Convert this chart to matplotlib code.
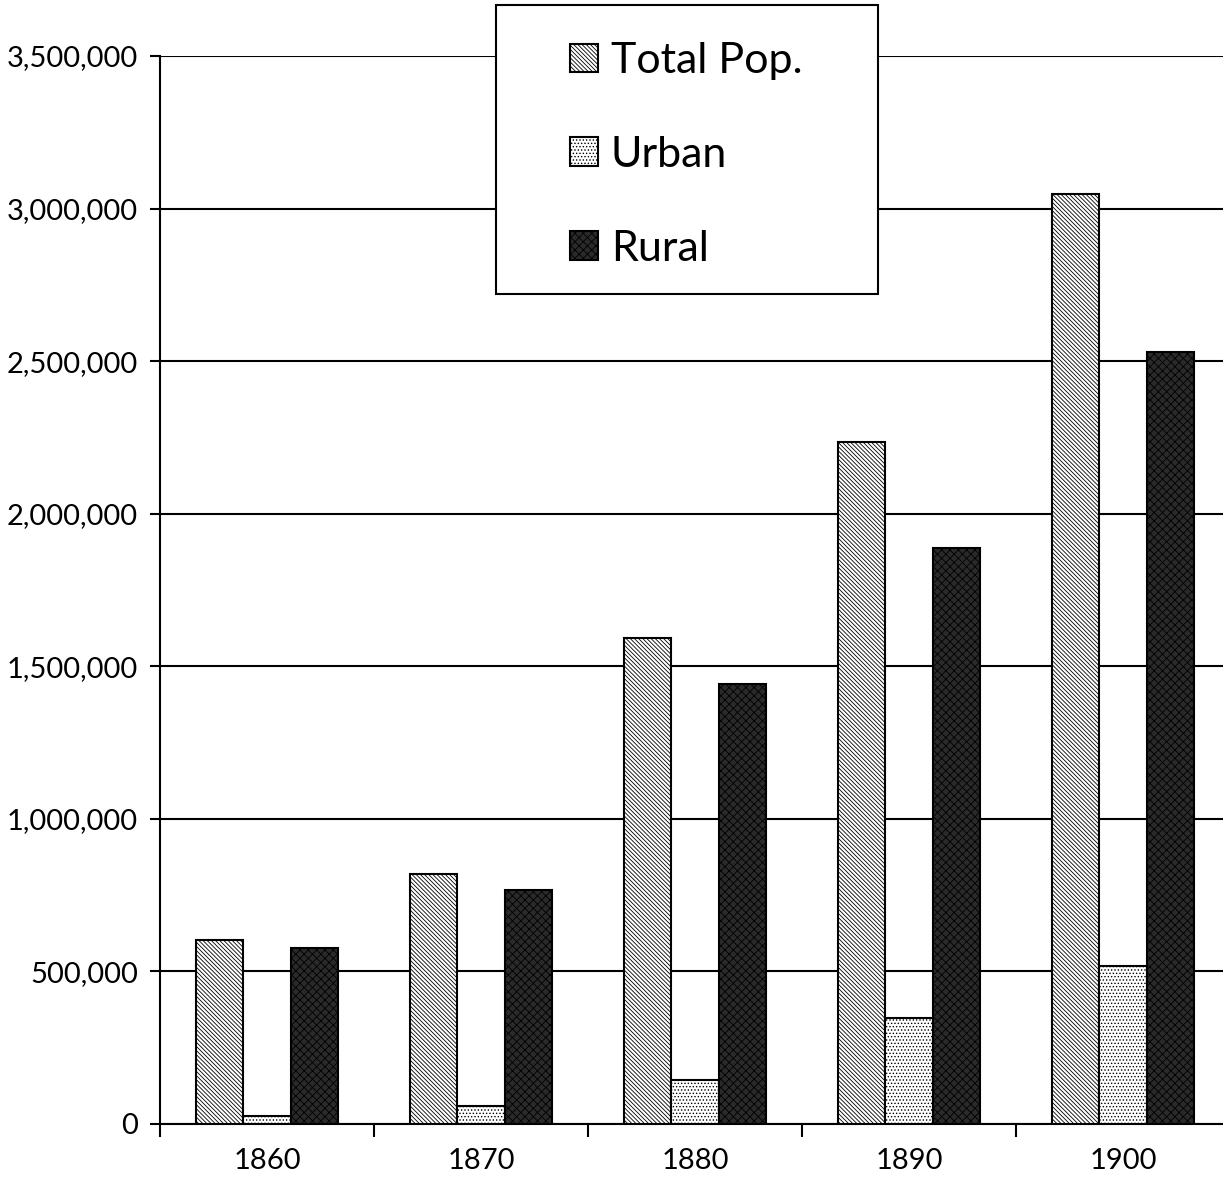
import matplotlib
matplotlib.use('Agg')
import matplotlib.pyplot as plt
from matplotlib.patches import Rectangle
from matplotlib.ticker import FuncFormatter, FixedLocator
import numpy as np

# データ
years = ["1860", "1870", "1880", "1890", "1900"]
total_pop = [603000, 819000, 1593000, 2235000, 3048000]
urban = [26000, 59000, 144000, 347000, 518000]
rural = [577000, 767000, 1442000, 1888000, 2530000]
series_names = ["Total Pop.", "Urban", "Rural"]


def main():
    plt.rcParams['font.family'] = ['Lato', 'DejaVu Sans']
    plt.rcParams['hatch.linewidth'] = 0.6

    W, H = 1223, 1192
    fig = plt.figure(figsize=(W / 100, H / 100), dpi=100)
    ax = fig.add_axes([160 / W, (H - 1124) / H, 1070 / W, 1068 / H])

    x = np.arange(len(years))
    bw = 0.22
    styles = [
        dict(facecolor="white", hatch="\\\\\\\\\\\\\\\\"),
        dict(facecolor="white", hatch="....."),
        dict(facecolor="#2a2a2a", hatch="xxxx"),
    ]
    handles = []
    for i, (vals, st) in enumerate(zip([total_pop, urban, rural], styles)):
        b = ax.bar(x + (i - 1) * bw, vals, bw, edgecolor="black",
                   linewidth=1.5, zorder=3, **st)
        handles.append(b)

    # 軸
    ax.set_xlim(-0.5, len(years) - 0.5)
    ax.set_ylim(0, 3500000)
    ax.set_yticks(np.arange(0, 3500001, 500000))
    ax.yaxis.set_major_formatter(FuncFormatter(lambda v, p: f"{int(v):,}"))
    ax.grid(axis="y", color="black", linewidth=1.5, zorder=1)

    ax.xaxis.set_major_locator(FixedLocator(np.arange(-0.5, len(years), 1.0)))
    ax.xaxis.set_major_formatter(FuncFormatter(lambda v, p: ""))
    ax.xaxis.set_minor_locator(FixedLocator(x))
    ax.set_xticklabels(years, minor=True)
    ax.tick_params(axis="x", which="major", length=9, width=1.5, color="black")
    ax.tick_params(axis="x", which="minor", length=0, pad=17, labelsize=21)
    ax.tick_params(axis="y", length=7, width=1.5, pad=9, labelsize=21)

    for s in ["top", "right"]:
        ax.spines[s].set_visible(False)
    ax.spines["left"].set_linewidth(1.5)
    ax.spines["bottom"].set_linewidth(1.5)

    # 凡例（枠は手描き）
    fig.patches.append(Rectangle((496 / W, (H - 294) / H), 382 / W, 289 / H,
                                 transform=fig.transFigure, facecolor="white",
                                 edgecolor="black", linewidth=1.5, zorder=5))
    leg = fig.legend(handles, series_names, loc="upper left",
                     bbox_to_anchor=(570 / W, (H - 42) / H), frameon=False,
                     fontsize=31, handlelength=0.65, handleheight=0.65,
                     handletextpad=0.3, labelspacing=1.3, borderpad=0,
                     borderaxespad=0)
    leg.set_zorder(6)

    fig.savefig("out.png", dpi=100)


if __name__ == "__main__":
    main()
